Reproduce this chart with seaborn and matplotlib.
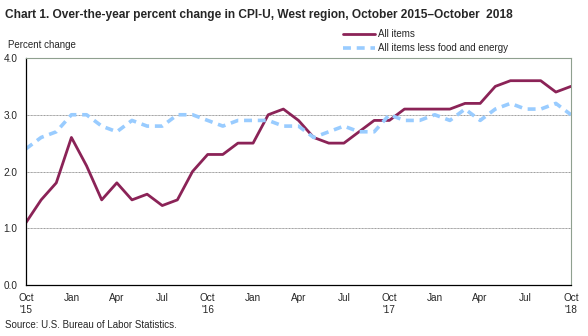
import matplotlib
matplotlib.use("Agg")
import matplotlib.pyplot as plt
import seaborn as sns
import pandas as pd
import numpy as np

months = ["Oct '15","Nov","Dec","Jan","Feb","Mar","Apr","May","Jun","Jul","Aug","Sep",
          "Oct '16","Nov","Dec","Jan","Feb","Mar","Apr","May","Jun","Jul","Aug","Sep",
          "Oct '17","Nov","Dec","Jan","Feb","Mar","Apr","May","Jun","Jul","Aug","Sep","Oct '18"]
all_items = [1.1,1.5,1.8,2.6,2.1,1.5,1.8,1.5,1.6,1.4,1.5,2.0,
             2.3,2.3,2.5,2.5,3.0,3.1,2.9,2.6,2.5,2.5,2.7,2.9,
             2.9,3.1,3.1,3.1,3.1,3.2,3.2,3.5,3.6,3.6,3.6,3.4,3.5]
core = [2.4,2.6,2.7,3.0,3.0,2.8,2.7,2.9,2.8,2.8,3.0,3.0,
        2.9,2.8,2.9,2.9,2.9,2.8,2.8,2.6,2.7,2.8,2.7,2.7,
        3.0,2.9,2.9,3.0,2.9,3.1,2.9,3.1,3.2,3.1,3.1,3.2,3.0]
tick_labels = ["Oct\n'15","Jan","Apr","Jul","Oct\n'16","Jan","Apr","Jul",
               "Oct\n'17","Jan","Apr","Jul","Oct\n'18"]

sns.set_style("white")
plt.rcParams['font.family'] = ['Liberation Sans', 'DejaVu Sans']

idx = np.arange(len(months))
df = pd.DataFrame({"i": np.concatenate([idx, idx]),
                   "v": all_items + core,
                   "s": ["All items"]*len(idx) + ["All items less food and energy"]*len(idx)})

fig = plt.figure(figsize=(5.88, 3.36), dpi=100)
ax = fig.add_axes([26/588, 1-285/336, (571-26)/588, (285-58)/336])

sns.lineplot(data=df, x="i", y="v", hue="s", style="s",
             palette={"All items": "#8B2357", "All items less food and energy": "#99CCFF"},
             dashes={"All items": "", "All items less food and energy": (2.2, 1.6)},
             linewidth=2.0, ax=ax, legend=False)
ax.lines[1].set_linewidth(2.6)

ax.set_xlim(0, 36)
ax.set_ylim(0, 4.0)
ax.set_yticks([0, 1, 2, 3, 4])
ax.set_yticklabels(["0.0", "1.0", "2.0", "3.0", "4.0"], fontsize=7.2)
ax.set_xticks(np.arange(0, 37, 3))
ax.set_xticklabels(tick_labels, fontsize=7.2, linespacing=1.3)
ax.set_xticks(np.arange(0, 37, 1), minor=True)
ax.tick_params(axis='x', which='both', direction='inout', length=7, width=0.8, color='black', pad=2)
ax.tick_params(axis='y', length=0, pad=6)
ax.set_xlabel("")
ax.set_ylabel("")
ax.yaxis.grid(True, color="#999999", linewidth=0.7, linestyle=(0, (1, 0.5)))
ax.set_axisbelow(True)
for side in ["top", "right"]:
    ax.spines[side].set_color("#8FA08F")
    ax.spines[side].set_linewidth(0.8)
for side in ["left", "bottom"]:
    ax.spines[side].set_color("black")
    ax.spines[side].set_linewidth(0.9)

fig.text(5/588, 1-15/336, "Chart 1. Over-the-year percent change in CPI-U, West region, October 2015\u2013October  2018",
         fontsize=8.6, fontweight="bold", va="center", ha="left")
fig.text(8/588, 1-45/336, "Percent change", fontsize=7.0, va="center", ha="left")
fig.text(5/588, 1-325/336, "Source: U.S. Bureau of Labor Statistics.", fontsize=7.0, va="center", ha="left")

from matplotlib.lines import Line2D
fig.lines.append(Line2D([343/588, 375/588], [1-34/336, 1-34/336], color="#8B2357", linewidth=2.0,
                        transform=fig.transFigure))
fig.lines.append(Line2D([343/588, 375/588], [1-48/336, 1-48/336], color="#99CCFF", linewidth=2.6,
                        dashes=(2.2, 1.6), transform=fig.transFigure))
fig.text(378/588, 1-34/336, "All items", fontsize=7.0, va="center", ha="left")
fig.text(378/588, 1-48/336, "All items less food and energy", fontsize=7.0, va="center", ha="left")

fig.savefig("out.png", dpi=100)
